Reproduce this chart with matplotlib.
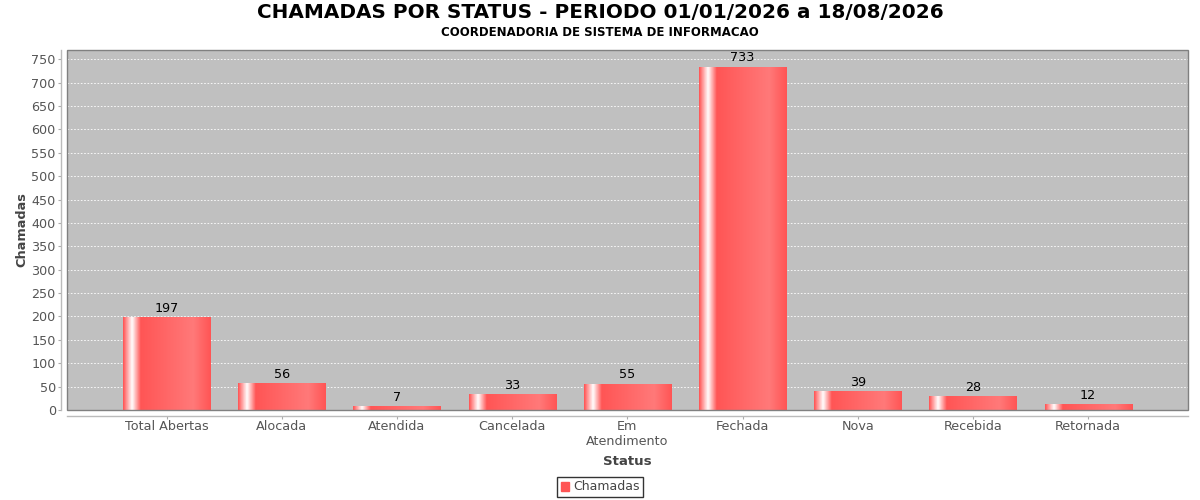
import numpy as np
import matplotlib
matplotlib.use("Agg")
import matplotlib.pyplot as plt
from matplotlib.colors import LinearSegmentedColormap
from matplotlib.patches import Rectangle

# chart data
status = ["Total Abertas", "Alocada", "Atendida", "Cancelada", "Em\nAtendimento",
          "Fechada", "Nova", "Recebida", "Retornada"]
chamadas = [197, 56, 7, 33, 55, 733, 39, 28, 12]
yticks = list(range(0, 751, 50))

title = "CHAMADAS POR STATUS - PERIODO 01/01/2026 a 18/08/2026"
subtitle = "COORDENADORIA DE SISTEMA DE INFORMACAO"

base = "#FF5555"
bright = "#FF7979"
grad = LinearSegmentedColormap.from_list(
    "bar", [(0.0, base), (0.10, "white"), (0.20, base), (0.80, bright), (1.0, base)])

plt.rcParams["font.family"] = ["DejaVu Sans"]

fig = plt.figure(figsize=(12, 5), dpi=100)
ax = fig.add_axes([0.0558, 0.18, 0.934, 0.72])
ax.set_facecolor("#C0C0C0")

x = np.arange(len(status))
bars = ax.bar(x, chamadas, width=0.757, color=base, label="Chamadas", zorder=2)

# gradient fill like the java chart
strip = np.linspace(0, 1, 200).reshape(1, -1)
for b in bars:
    b.set_alpha(0)
    x0, w, h = b.get_x(), b.get_width(), b.get_height()
    ax.imshow(strip, cmap=grad, aspect="auto", extent=(x0, x0 + w, 0, h),
              zorder=2, interpolation="bilinear")
    ax.text(x0 + w / 2, h + 6, str(int(h)), ha="center", va="bottom",
            fontsize=9.2, color="black", zorder=3)

ax.set_xlim(-0.865, len(status) - 1 + 0.865)
ax.set_ylim(0, max(chamadas) * 1.05)

ax.set_yticks(yticks)
ax.set_xticks(x)
ax.set_xticklabels(status, linespacing=0.95)
ax.tick_params(axis="both", labelsize=9.2, labelcolor="#555555", color="#AAAAAA",
               length=2, width=0.8, pad=2)
ax.tick_params(axis="x", pad=1)
ax.yaxis.grid(True, color="white", linestyle=(0, (2, 2)), linewidth=0.6, zorder=1)
ax.set_axisbelow(True)

for s in ["top", "right"]:
    ax.spines[s].set_visible(False)
for s in ["left", "bottom"]:
    ax.spines[s].set_position(("outward", 4))
    ax.spines[s].set_color("#BBBBBB")
    ax.spines[s].set_linewidth(1.0)

# plot area outline
ax.add_patch(Rectangle((0, 0), 1, 1, transform=ax.transAxes, fill=False,
                       edgecolor="#808080", linewidth=1.0, zorder=5, clip_on=False))

ax.set_ylabel("Chamadas", fontsize=9.3, fontweight="bold", color="#444444", labelpad=2)
ax.set_xlabel("Status", fontsize=9.6, fontweight="bold", color="#444444", labelpad=5)

fig.text(0.5, 0.975, title, ha="center", va="center", fontsize=14.4, fontweight="bold")
fig.text(0.5, 0.936, subtitle, ha="center", va="center", fontsize=8.5, fontweight="bold")

leg = fig.legend(handles=[Rectangle((0, 0), 1, 1, color=base)], labels=["Chamadas"],
                 loc="center", bbox_to_anchor=(0.5, 0.026), fontsize=9,
                 frameon=True, fancybox=False, handlelength=0.7, handleheight=0.7,
                 handletextpad=0.3, borderpad=0.3, labelcolor="#444444")
leg.get_frame().set_edgecolor("black")
leg.get_frame().set_linewidth(1.0)

fig.savefig("out.png", dpi=100)
